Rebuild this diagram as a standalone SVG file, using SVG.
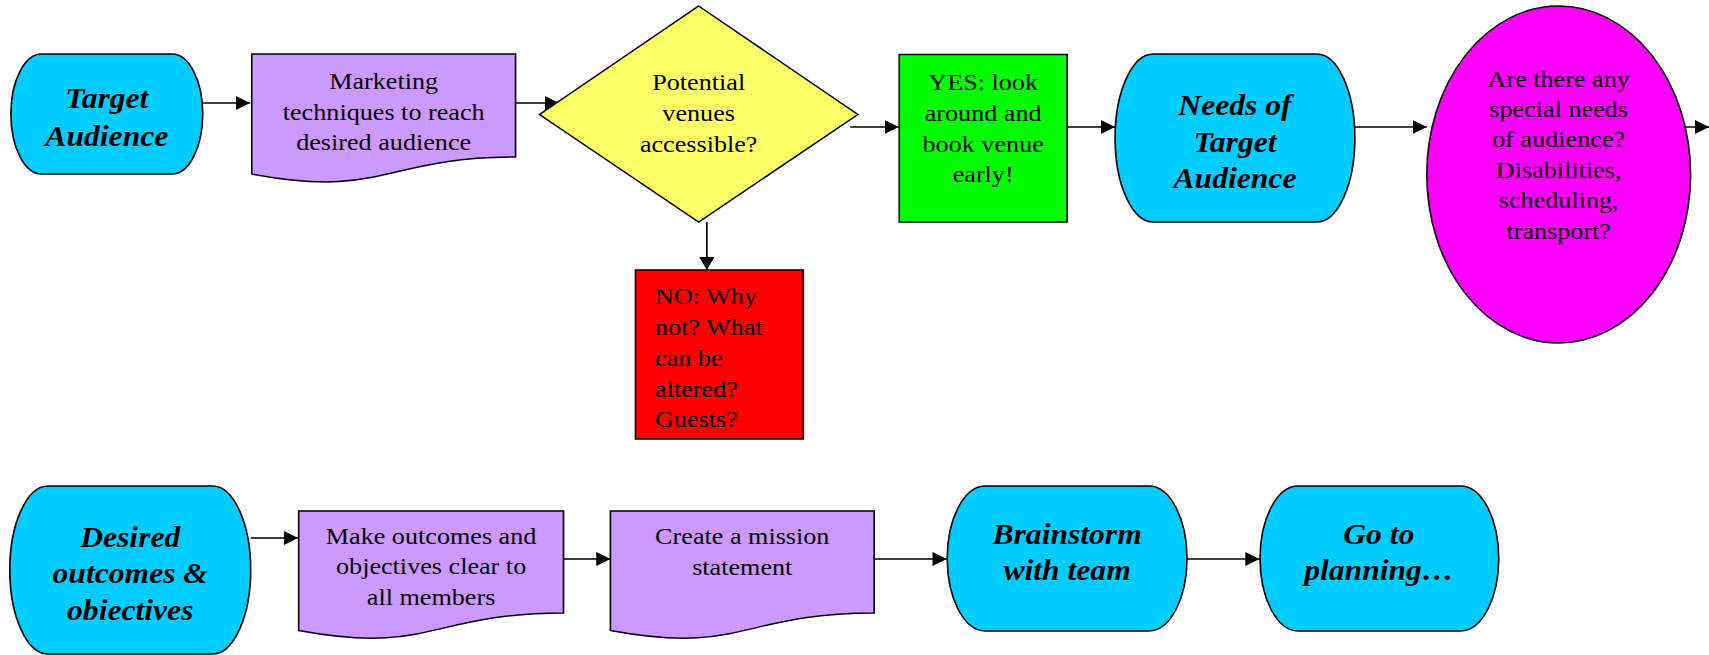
<svg xmlns="http://www.w3.org/2000/svg" width="1709" height="655" viewBox="0 0 1709 655">
<style>
.s{stroke:#000;stroke-width:1.5}
.cy{fill:#00CCFF}.pu{fill:#CC99FF}.ye{fill:#FFFF66}.gr{fill:#00FF00}.rd{fill:#FF0000}.mg{fill:#FF00FF}
.t{font-family:"Liberation Serif","Times New Roman",serif;font-size:24px;fill:#000;text-anchor:middle}
.b{font-family:"Liberation Serif","Times New Roman",serif;font-size:29px;font-weight:bold;font-style:italic;fill:#000;text-anchor:middle}
.l{text-anchor:start}
.c{fill:none;stroke:#000;stroke-width:1.5}
</style>
<defs>
<marker id="arr" viewBox="0 0 13 14" refX="13" refY="7" markerWidth="13" markerHeight="14" markerUnits="userSpaceOnUse" orient="auto"><path d="M0,0 L13,7 L0,14 Z" fill="#000"/></marker>
</defs>
<rect width="1709" height="655" fill="#fff"/>
<g transform="scale(1.09 1)">
<g id="connectors">
<path class="c" d="M186,103 H229.5" marker-end="url(#arr)"/>
<path class="c" d="M473,103 H513" marker-end="url(#arr)"/>
<path class="c" d="M648.5,222 V270" marker-end="url(#arr)"/>
<path class="c" d="M780,127 H824.5" marker-end="url(#arr)"/>
<path class="c" d="M979,127 H1023" marker-end="url(#arr)"/>
<path class="c" d="M1243,127 H1309" marker-end="url(#arr)"/>
<path class="c" d="M1546,127 H1568" marker-end="url(#arr)"/>
<path class="c" d="M230,538 H273.5" marker-end="url(#arr)"/>
<path class="c" d="M517,559 H560" marker-end="url(#arr)"/>
<path class="c" d="M802,559 H868.5" marker-end="url(#arr)"/>
<path class="c" d="M1089,559 H1155.5" marker-end="url(#arr)"/>
</g>
<g id="target-audience">
<path class="s cy" d="M38,54 H158 A28,60 0 0 1 158,174 H38 A28,60 0 0 1 38,54 Z"/>
<text class="b" x="98" y="108">Target</text>
<text class="b" x="98" y="146">Audience</text>
</g>
<g id="marketing">
<path class="s pu" d="M231,54 H473 V157 C352,157 352,199 231,174 Z"/>
<text class="t" x="352" y="89">Marketing</text>
<text class="t" x="352" y="120">techniques to reach</text>
<text class="t" x="352" y="150">desired audience</text>
</g>
<g id="venues">
<path class="s ye" d="M641,6 L787,114.5 L641,222 L495,114.5 Z"/>
<text class="t" x="641" y="90">Potential</text>
<text class="t" x="641" y="121">venues</text>
<text class="t" x="641" y="152">accessible?</text>
</g>
<g id="no">
<rect class="s rd" x="583" y="270" width="154" height="169"/>
<text class="t l" x="601" y="304">NO: Why</text>
<text class="t l" x="601" y="335">not? What</text>
<text class="t l" x="601" y="366">can be</text>
<text class="t l" x="601" y="397">altered?</text>
<text class="t l" x="601" y="427">Guests?</text>
</g>
<g id="yes">
<rect class="s gr" x="825" y="54.5" width="154" height="167.5"/>
<text class="t" x="902" y="90">YES: look</text>
<text class="t" x="902" y="121">around and</text>
<text class="t" x="902" y="152">book venue</text>
<text class="t" x="902" y="182">early!</text>
</g>
<g id="needs">
<path class="s cy" d="M1058,54 H1208 A35,84 0 0 1 1208,222 H1058 A35,84 0 0 1 1058,54 Z"/>
<text class="b" x="1133" y="115">Needs of</text>
<text class="b" x="1133" y="152">Target</text>
<text class="b" x="1133" y="188">Audience</text>
</g>
<g id="special-needs">
<ellipse class="s mg" cx="1430" cy="174.5" rx="121" ry="168.5"/>
<text class="t" x="1430" y="87">Are there any</text>
<text class="t" x="1430" y="117">special needs</text>
<text class="t" x="1430" y="147">of audience?</text>
<text class="t" x="1430" y="178">Disabilities,</text>
<text class="t" x="1430" y="208">scheduling,</text>
<text class="t" x="1430" y="239">transport?</text>
</g>
<g id="desired">
<path class="s cy" d="M44,486 H195 A35,84 0 0 1 195,654 H44 A35,84 0 0 1 44,486 Z"/>
<text class="b" x="119.5" y="547">Desired</text>
<text class="b" x="119.5" y="583">outcomes &amp;</text>
<text class="b" x="119.5" y="620">obiectives</text>
</g>
<g id="make-clear">
<path class="s pu" d="M274,511 H517 V613 C395.5,613 395.5,655 274,630.5 Z"/>
<text class="t" x="395.5" y="544">Make outcomes and</text>
<text class="t" x="395.5" y="574">objectives clear to</text>
<text class="t" x="395.5" y="605">all members</text>
</g>
<g id="mission">
<path class="s pu" d="M560,511 H802 V613 C681,613 681,655 560,630.5 Z"/>
<text class="t" x="681" y="544">Create a mission</text>
<text class="t" x="681" y="575">statement</text>
</g>
<g id="brainstorm">
<path class="s cy" d="M904,486 H1054 A35,72.5 0 0 1 1054,631 H904 A35,72.5 0 0 1 904,486 Z"/>
<text class="b" x="979" y="544">Brainstorm</text>
<text class="b" x="979" y="580">with team</text>
</g>
<g id="planning">
<path class="s cy" d="M1191,486 H1340 A35,72.5 0 0 1 1340,631 H1191 A35,72.5 0 0 1 1191,486 Z"/>
<text class="b" x="1265" y="544">Go to</text>
<text class="b" x="1265" y="580">planning…</text>
</g>
</g>
</svg>
